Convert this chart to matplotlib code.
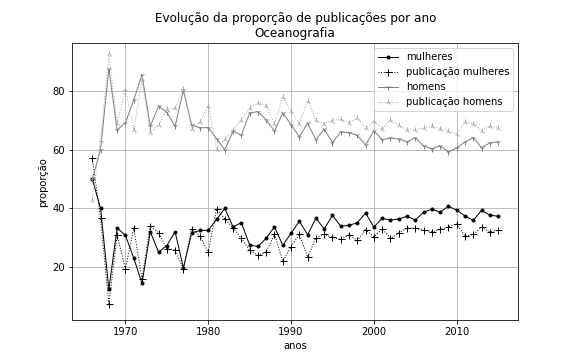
import matplotlib
matplotlib.use("Agg")
import matplotlib.pyplot as plt

anos = list(range(1966, 2016))

mulheres = [50.0, 40.0, 12.4, 33.3, 30.8, 23.1, 14.4, 32.0, 25.1, 27.3,
            32.0, 19.7, 31.6, 32.5, 32.5, 36.2, 40.0, 33.7, 35.1, 27.5,
            27.0, 29.8, 33.7, 27.4, 31.5, 35.6, 31.0, 36.6, 33.0, 37.6,
            33.9, 34.2, 35.1, 38.4, 33.6, 36.6, 36.0, 36.4, 37.3, 36.0,
            38.7, 39.7, 38.7, 40.7, 39.4, 37.4, 35.9, 39.3, 37.7, 37.3]

pub_mulheres = [57.0, 36.6, 7.5, 30.8, 19.3, 33.2, 16.0, 34.1, 31.7, 26.2,
                25.9, 19.3, 33.0, 30.6, 25.0, 39.7, 36.4, 33.4, 29.8, 25.8,
                24.0, 25.1, 31.2, 22.0, 26.9, 31.2, 23.3, 30.0, 31.1, 30.1,
                29.4, 31.0, 29.1, 32.7, 30.3, 33.0, 29.8, 31.6, 33.3, 33.2,
                32.6, 32.0, 32.8, 33.7, 34.7, 30.5, 31.1, 33.5, 32.0, 32.5]

homens = [50.0, 60.0, 87.6, 66.7, 69.2, 76.9, 85.6, 68.0, 74.9, 72.7,
          68.0, 80.3, 68.4, 67.5, 67.5, 63.8, 60.0, 66.3, 64.9, 72.5,
          73.0, 70.2, 66.3, 72.6, 68.5, 64.4, 69.0, 63.4, 67.0, 62.4,
          66.1, 65.8, 64.9, 61.6, 66.4, 63.4, 64.0, 63.6, 62.7, 64.0,
          61.3, 60.3, 61.3, 59.3, 60.6, 62.6, 64.1, 60.7, 62.3, 62.7]

pub_homens = [43.0, 63.4, 92.5, 69.2, 80.7, 66.8, 84.0, 65.9, 68.3, 73.8,
              74.1, 80.7, 67.0, 69.4, 75.0, 60.3, 63.6, 66.6, 70.2, 74.2,
              76.0, 74.9, 68.8, 78.0, 73.1, 68.8, 76.7, 70.0, 68.9, 69.9,
              70.6, 69.0, 70.9, 67.3, 69.7, 67.0, 70.2, 68.4, 66.7, 66.8,
              67.4, 68.0, 67.2, 66.3, 65.3, 69.5, 68.9, 66.5, 68.0, 67.5]

fig, ax = plt.subplots(figsize=(8, 5), dpi=72)
ax.plot(anos, mulheres, "-", marker=".", color="black", lw=1, ms=6, label="mulheres")
ax.plot(anos, pub_mulheres, ":", marker="+", color="black", lw=1, ms=7, label="publicação mulheres")
ax.plot(anos, homens, "-", marker="1", color="gray", lw=1, ms=6, label="homens")
ax.plot(anos, pub_homens, ":", marker="2", color="darkgray", lw=1, ms=6, label="publicação homens")
ax.set_ylim(1.8, 96.3)
ax.grid(True, color="#b0b0b0")
ax.set_xlabel("anos")
ax.set_ylabel("proporção")
ax.set_title("Evolução da proporção de publicações por ano\nOceanografia")
ax.legend(loc="upper right")
fig.savefig("out.png", dpi=72)
